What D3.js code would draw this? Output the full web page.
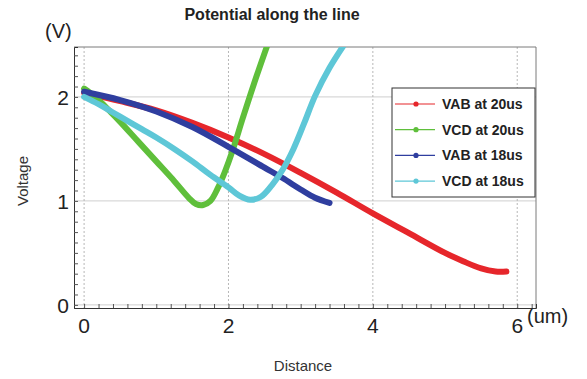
<!DOCTYPE html>
<html>
<head>
<meta charset="utf-8">
<script src="https://cdn.jsdelivr.net/npm/d3@7"></script>
<style>
  body { margin: 0; background: #fff; }
  text { font-family: "Liberation Sans", Arial, sans-serif; }
</style>
</head>
<body>
<script>
// Series data (x in um, y in V)
const vab20X = [0, 0.5, 1.0, 1.5, 2.0, 2.5, 3.0, 3.5, 4.0, 4.5, 5.0, 5.25, 5.5, 5.7, 5.85];
const vab20Y = [2.04, 1.96, 1.87, 1.75, 1.61, 1.45, 1.27, 1.08, 0.88, 0.69, 0.50, 0.42, 0.35, 0.32, 0.32];

const vcd20X = [0, 0.1, 0.2, 0.36, 0.5, 0.75, 1.0, 1.25, 1.45, 1.55, 1.65, 1.75, 1.85, 1.95, 2.05, 2.2, 2.35, 2.55];
const vcd20Y = [2.08, 2.03, 1.97, 1.86, 1.76, 1.57, 1.38, 1.19, 1.03, 0.97, 0.96, 1.0, 1.12, 1.28, 1.47, 1.80, 2.12, 2.52];

const vab18X = [0, 0.5, 1.0, 1.5, 2.0, 2.5, 2.75, 3.0, 3.2, 3.4];
const vab18Y = [2.05, 1.97, 1.86, 1.71, 1.52, 1.32, 1.22, 1.11, 1.03, 0.98];

const vcd18X = [0, 0.2, 0.4, 0.6, 0.8, 1.0, 1.25, 1.5, 1.75, 2.0, 2.15, 2.3, 2.45, 2.6, 2.75, 2.9, 3.05, 3.2, 3.4, 3.62];
const vcd18Y = [2.0, 1.93, 1.85, 1.77, 1.69, 1.61, 1.50, 1.38, 1.25, 1.13, 1.05, 1.01, 1.04, 1.15, 1.30, 1.50, 1.75, 2.01, 2.28, 2.52];

const seriesNames = ["VAB at 20us", "VCD at 20us", "VAB at 18us", "VCD at 18us"];
const seriesColors = ["#e6262b", "#5fbf3b", "#2f3e9f", "#5ec7d7"];
const seriesX = [vab20X, vcd20X, vab18X, vcd18X];
const seriesY = [vab20Y, vcd20Y, vab18Y, vcd18Y];

const xTicks = [0, 2, 4, 6];
const yTicks = [0, 1, 2];

const W = 587, H = 379;
const plot = { left: 74, right: 536, top: 47, bottom: 308 };

const svg = d3.select("body").append("svg")
    .attr("width", W)
    .attr("height", H);

const x = d3.scaleLinear().domain([-0.14, 6.26]).range([plot.left, plot.right]);
const y = d3.scaleLinear().domain([-0.03, 2.48]).range([plot.bottom, plot.top]);

// grid
svg.append("g").selectAll("line")
    .data(yTicks)
    .enter().append("line")
    .attr("x1", plot.left).attr("x2", plot.right)
    .attr("y1", d => y(d)).attr("y2", d => y(d))
    .style("stroke", "#cfcfcf")
    .style("stroke-width", 1);

svg.append("g").selectAll("line")
    .data(xTicks)
    .enter().append("line")
    .attr("x1", d => x(d)).attr("x2", d => x(d))
    .attr("y1", plot.top).attr("y2", plot.bottom)
    .style("stroke", "#b8b8b8")
    .style("stroke-dasharray", "2,2")
    .style("stroke-width", 1);

// frame: top and right are gray
svg.append("line")
    .attr("x1", plot.left).attr("x2", plot.right)
    .attr("y1", plot.top).attr("y2", plot.top)
    .style("stroke", "#7a7a7a");
svg.append("line")
    .attr("x1", plot.right).attr("x2", plot.right)
    .attr("y1", plot.top).attr("y2", plot.bottom)
    .style("stroke", "#7a7a7a");

// axes with inward minor ticks
const xAxis = d3.axisBottom(x)
    .tickValues(d3.range(0, 6.21, 0.2))
    .tickSize(-4)
    .tickFormat("");
svg.append("g")
    .attr("transform", "translate(0," + plot.bottom + ")")
    .call(xAxis)
    .call(g => g.select(".domain").attr("stroke", "#333"))
    .call(g => g.selectAll(".tick line").attr("stroke", "#555"));

const yAxis = d3.axisLeft(y)
    .tickValues(d3.range(0, 2.45, 0.1))
    .tickSize(-4)
    .tickFormat("");
svg.append("g")
    .attr("transform", "translate(" + plot.left + ",0)")
    .call(yAxis)
    .call(g => g.select(".domain").attr("stroke", "#333"))
    .call(g => g.selectAll(".tick line").attr("stroke", "#555"));

// tick labels
svg.append("g").selectAll("text")
    .data(xTicks)
    .enter().append("text")
    .attr("x", d => x(d))
    .attr("y", 333)
    .attr("text-anchor", "middle")
    .style("font-size", "21px")
    .style("fill", "#222")
    .text(d => d);

svg.append("g").selectAll("text")
    .data(yTicks)
    .enter().append("text")
    .attr("x", 69)
    .attr("y", d => y(d) + 8)
    .attr("text-anchor", "end")
    .style("font-size", "21px")
    .style("fill", "#222")
    .text(d => d);

// units and titles
svg.append("text").attr("x", 45).attr("y", 38)
    .style("font-size", "20px").style("fill", "#222").text("(V)");
svg.append("text").attr("x", 527).attr("y", 323)
    .style("font-size", "20px").style("fill", "#222").text("(um)");

svg.append("text")
    .attr("x", 272).attr("y", 20)
    .attr("text-anchor", "middle")
    .style("font-size", "16px").style("font-weight", "bold").style("fill", "#222")
    .text("Potential along the line");

svg.append("text")
    .attr("x", 303).attr("y", 371)
    .attr("text-anchor", "middle")
    .style("font-size", "15px").style("fill", "#333")
    .text("Distance");

svg.append("text")
    .attr("transform", "translate(28,181) rotate(-90)")
    .attr("text-anchor", "middle")
    .style("font-size", "15px").style("fill", "#333")
    .text("Voltage");

// clip for curves
svg.append("clipPath").attr("id", "plotclip")
    .append("rect")
    .attr("x", plot.left).attr("y", plot.top)
    .attr("width", plot.right - plot.left)
    .attr("height", plot.bottom - plot.top);

const line = d3.line()
    .x(d => x(d[0]))
    .y(d => y(d[1]))
    .curve(d3.curveCatmullRom.alpha(0.5));

const curves = svg.append("g").attr("clip-path", "url(#plotclip)");
seriesX.forEach(function(xs, i) {
    const pts = xs.map((v, j) => [v, seriesY[i][j]]);
    curves.append("path")
        .datum(pts)
        .attr("d", line)
        .style("fill", "none")
        .style("stroke", seriesColors[i])
        .style("stroke-width", 6)
        .style("stroke-linecap", "round")
        .style("stroke-linejoin", "round");
});

// legend
const legend = svg.append("g");
legend.append("rect")
    .attr("x", 392).attr("y", 88)
    .attr("width", 143).attr("height", 109)
    .style("fill", "#fff")
    .style("stroke", "#333")
    .style("stroke-width", 1);

seriesNames.forEach(function(name, i) {
    const ly = 104 + i * 25.7;
    legend.append("line")
        .attr("x1", 395).attr("x2", 435)
        .attr("y1", ly).attr("y2", ly)
        .style("stroke", seriesColors[i])
        .style("stroke-width", 1.2);
    legend.append("circle")
        .attr("cx", 416).attr("cy", ly).attr("r", 2.6)
        .style("fill", seriesColors[i]);
    legend.append("text")
        .attr("x", 442).attr("y", ly + 5)
        .style("font-size", "14px").style("font-weight", "bold").style("fill", "#222")
        .text(name);
});
</script>
</body>
</html>
